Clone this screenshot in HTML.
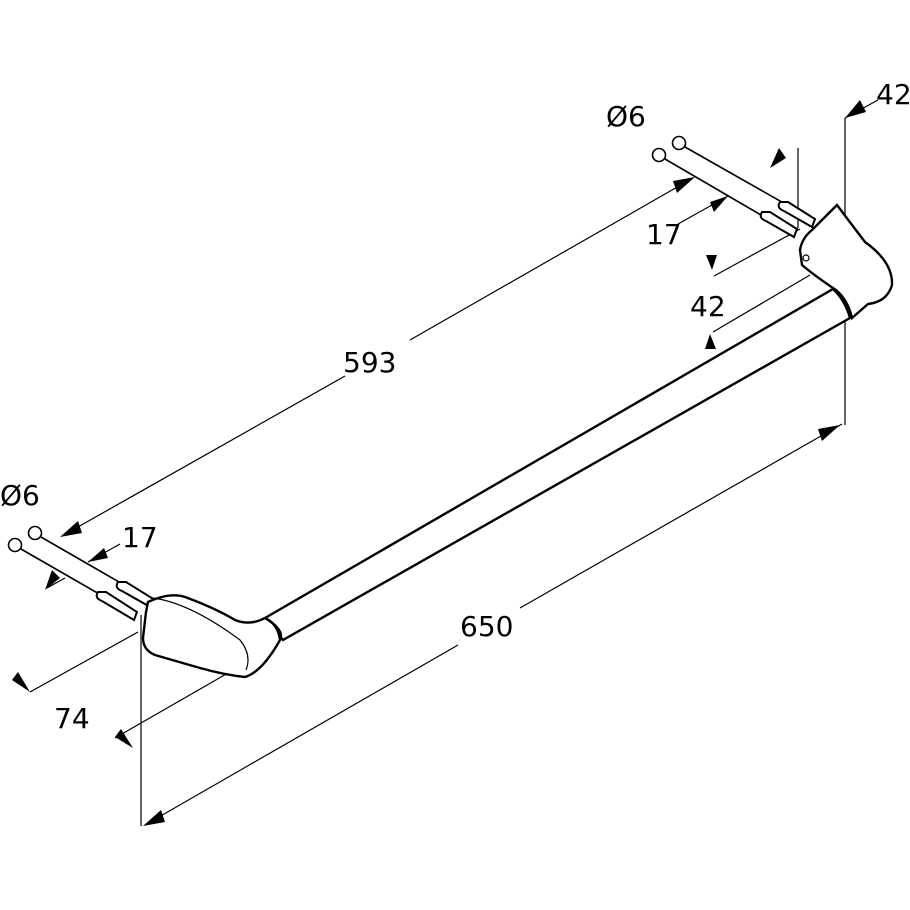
<!DOCTYPE html>
<html><head><meta charset="utf-8"><style>
html,body{margin:0;padding:0;background:#fff;}
svg{display:block;}
text{font-family:"DejaVu Sans","Liberation Sans",sans-serif;font-size:28px;fill:#000;}
</style></head><body>
<svg width="910" height="910" viewBox="0 0 910 910" xmlns="http://www.w3.org/2000/svg">
<g fill="none" stroke="#000" stroke-width="1.2">
<line x1="62" y1="536" x2="345" y2="376"/>
<line x1="410" y1="340" x2="693" y2="178"/>
<line x1="145" y1="825" x2="458" y2="645"/>
<line x1="520" y1="608" x2="842" y2="424"/>
<line x1="141" y1="615" x2="141" y2="826"/>
<line x1="845" y1="118" x2="845" y2="425"/>
<line x1="845" y1="118" x2="878" y2="100"/>
<line x1="30" y1="692" x2="138" y2="632"/>
<line x1="115" y1="738" x2="235" y2="669"/>
<line x1="88" y1="562" x2="120" y2="544"/>
<line x1="47" y1="588" x2="65" y2="578"/>
<line x1="678" y1="224" x2="728" y2="196"/>
<line x1="798" y1="148" x2="798" y2="228"/>
<line x1="714" y1="276" x2="800" y2="229"/>
<line x1="713" y1="332" x2="810" y2="275"/>
</g>
<g fill="#000">
<polygon points="60,537 78,521 82,533"/>
<polygon points="695,177 677,193 673,181"/>
<polygon points="143,826 161,810 165,822"/>
<polygon points="840,425 822,441 818,429"/>
<polygon points="845,118 860,100 866,112"/>
<polygon points="30,692 12,680 18,672"/>
<polygon points="133,748 115,737 121,729"/>
<polygon points="88,562 104,548 108,558"/>
<polygon points="45,590 60,578 52,570"/>
<polygon points="728,196 714,212 710,202"/>
<polygon points="770,168 786,158 779,148"/>
<polygon points="712,270 706,255 717,255"/>
<polygon points="710,334 705,349 716,349"/>
</g>
<g fill="#fff" stroke="#000" stroke-width="1.6">
<circle cx="659" cy="155" r="6.5"/>
<circle cx="679" cy="143" r="6.5"/>
<line x1="665" y1="159" x2="790" y2="232"/>
<line x1="685" y1="147" x2="810" y2="218"/>
<circle cx="15" cy="545" r="6.5"/>
<circle cx="35" cy="533" r="6.5"/>
<line x1="21" y1="549" x2="134" y2="614"/>
<line x1="41" y1="537" x2="152" y2="601"/>
</g>
<g fill="#fff" stroke="#000" stroke-width="2">
<path d="M762,212 Q758,218 766,221 L794,237 L797,229 L770,212 Z"/>
<path d="M780,202 Q776,208 784,211 L812,227 L815,219 L788,202 Z"/>
<path d="M98,592 Q94,598 102,601 L134,620 L137,612 L106,592 Z"/>
<path d="M118,582 Q114,588 122,591 L152,608 L155,600 L126,582 Z"/>
</g>
<g fill="#fff" stroke="#000" stroke-width="2.4">
<path d="M265,618 L833,289 Q858,290 850,318 L283,640 Z"/>
<path d="M833,289 Q845,300 850,318" fill="none"/>
<path d="M148,602 Q170,592 185,597 Q215,608 235,620 Q250,626 265,618 Q285,630 280,640 Q262,672 245,677 Q225,675 200,668 L155,655 Q143,650 143,638 L146,612 Z"/>
<path d="M265,618 Q278,624 280,640" fill="none"/>
<path d="M153,598 Q190,603 240,640 Q252,655 246,670" fill="none" stroke-width="1.2"/>
<path d="M800,250 Q802,238 812,230 L837,205 Q852,225 865,242 Q893,262 892,285 Q887,302 868,304 L852,318 Q848,300 836,290 Q815,276 802,265 Z"/>
<circle cx="806" cy="258" r="3" fill="none" stroke-width="1.2"/>
</g>
<text x="606" y="126">Ø6</text>
<text x="876" y="104">42</text>
<text x="646" y="244">17</text>
<text x="690" y="316">42</text>
<text x="343" y="372">593</text>
<text x="0" y="505">Ø6</text>
<text x="122" y="547">17</text>
<text x="460" y="636">650</text>
<text x="54" y="728">74</text>
</svg>
</body></html>
